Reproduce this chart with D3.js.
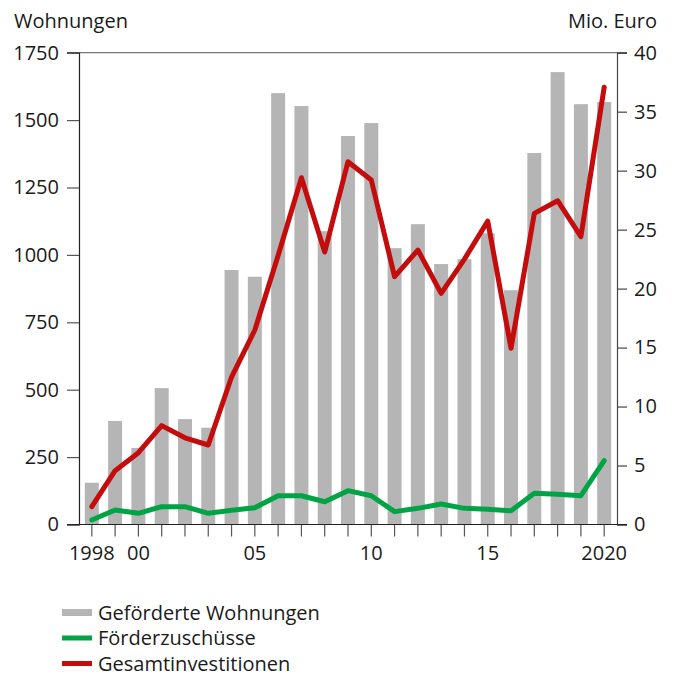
<!DOCTYPE html>
<html>
<head>
<meta charset="utf-8">
<script src="https://cdn.jsdelivr.net/npm/d3@7"></script>
<style>
  body { margin: 0; background: #fff; }
  svg text { font-family: "Open Sans", "Noto Sans", sans-serif; font-size: 20px; fill: #1a1a1a; }
</style>
</head>
<body>
<div id="chart"></div>
<script>
// years 1998..2020
var years = [1998, 1999, 2000, 2001, 2002, 2003, 2004, 2005, 2006, 2007, 2008, 2009,
             2010, 2011, 2012, 2013, 2014, 2015, 2016, 2017, 2018, 2019, 2020];
// Geförderte Wohnungen (left axis)
var wohnungen = [155, 384, 284, 506, 391, 359, 944, 919, 1600, 1552, 1088, 1441,
                 1489, 1025, 1114, 966, 984, 1080, 869, 1378, 1678, 1559, 1567];
// Förderzuschüsse, Mio. Euro (right axis)
var zuschuesse = [0.38, 1.23, 0.95, 1.51, 1.51, 0.95, 1.2, 1.42, 2.44, 2.44, 1.93, 2.87,
                  2.44, 1.09, 1.37, 1.74, 1.37, 1.29, 1.17, 2.64, 2.56, 2.44, 5.41];
// Gesamtinvestitionen, Mio. Euro (right axis)
var investitionen = [1.51, 4.56, 6.09, 8.38, 7.35, 6.74, 12.5, 16.49, 22.8, 29.4, 23.1, 30.76,
                     29.21, 21.01, 23.27, 19.6, 22.5, 25.72, 14.94, 26.38, 27.45, 24.4, 37.07];
var leftTicks = [0, 250, 500, 750, 1000, 1250, 1500, 1750];
var rightTicks = [0, 5, 10, 15, 20, 25, 30, 35, 40];
var xLabels = {1998: "1998", 2000: "00", 2005: "05", 2010: "10", 2015: "15", 2020: "2020"};
var legendItems = [
  {name: "Geförderte Wohnungen", type: "bar", color: "#b5b5b5"},
  {name: "Förderzuschüsse", type: "line", color: "#00a444"},
  {name: "Gesamtinvestitionen", type: "line", color: "#c40c0c"}
];

var W = 675, H = 675;
var pLeft = 79, pRight = 617, pTop = 52.7, pBottom = 524.5;

var svg = d3.select("#chart").append("svg")
    .attr("width", W).attr("height", H);

var x = d3.scaleBand()
    .domain(years)
    .range([pLeft, pRight])
    .paddingInner(0.4)
    .paddingOuter(0.25);
var yL = d3.scaleLinear().domain([0, 1750]).range([pBottom, pTop]);
var yR = d3.scaleLinear().domain([0, 40]).range([pBottom, pTop]);
var cx = function(d) { return x(d) + x.bandwidth() / 2; };

// bars
svg.append("g").selectAll("rect").data(years).enter()
    .append("rect")
    .attr("x", function(d) { return x(d); })
    .attr("width", x.bandwidth())
    .attr("y", function(d, i) { return yL(wohnungen[i]); })
    .attr("height", function(d, i) { return pBottom - yL(wohnungen[i]); })
    .attr("fill", legendItems[0].color);

// lines
var line = d3.line()
    .x(function(d, i) { return cx(years[i]); })
    .y(function(d) { return yR(d); });
svg.append("path").datum(zuschuesse)
    .attr("d", line).attr("fill", "none")
    .attr("stroke", legendItems[1].color).attr("stroke-width", 5)
    .attr("stroke-linejoin", "round").attr("stroke-linecap", "round");
svg.append("path").datum(investitionen)
    .attr("d", line).attr("fill", "none")
    .attr("stroke", legendItems[2].color).attr("stroke-width", 5)
    .attr("stroke-linejoin", "round").attr("stroke-linecap", "round");

// top line
svg.append("line")
    .attr("x1", 67).attr("x2", 627).attr("y1", pTop).attr("y2", pTop)
    .attr("stroke", "#777").attr("stroke-width", 1.3);

// left axis
var gL = svg.append("g").attr("transform", "translate(" + pLeft + ",0)")
    .call(d3.axisLeft(yL).tickValues(leftTicks).tickFormat(d3.format("d"))
      .tickSize(12).tickPadding(8));
gL.select(".domain").attr("stroke", "#222").attr("stroke-width", 1.2);
gL.selectAll(".tick line").attr("stroke", "#555").attr("stroke-width", 1.2);
gL.selectAll(".tick text").attr("font-size", null).attr("font-family", null).attr("fill", null);

// right axis
var gR = svg.append("g").attr("transform", "translate(" + pRight + ",0)")
    .call(d3.axisRight(yR).tickValues(rightTicks).tickFormat(d3.format("d"))
      .tickSize(10).tickPadding(7));
gR.select(".domain").attr("stroke", "#444").attr("stroke-width", 1.2);
gR.selectAll(".tick line").attr("stroke", "#444").attr("stroke-width", 1.2);
gR.selectAll(".tick text").attr("font-size", null).attr("font-family", null).attr("fill", null);

// bottom axis
var gB = svg.append("g").attr("transform", "translate(0," + pBottom + ")")
    .call(d3.axisBottom(x).tickSize(12).tickPadding(9)
      .tickFormat(function(d) { return xLabels[d] || ""; }));
gB.select(".domain").remove();
gB.selectAll(".tick line").attr("stroke", "#555").attr("stroke-width", 1.2);
gB.selectAll(".tick text").attr("font-size", null).attr("font-family", null).attr("fill", null);
svg.append("line")
    .attr("x1", 67).attr("x2", 627).attr("y1", pBottom).attr("y2", pBottom)
    .attr("stroke", "#222").attr("stroke-width", 1.2);

// axis titles
svg.append("text").attr("x", 14).attr("y", 28).text("Wohnungen");
svg.append("text").attr("x", 657).attr("y", 28).attr("text-anchor", "end").text("Mio. Euro");

// legend
var lg = svg.append("g").selectAll("g").data(legendItems).enter()
    .append("g")
    .attr("transform", function(d, i) { return "translate(62," + (612.5 + i * 25.5) + ")"; });
lg.append("rect")
    .attr("x", 0).attr("width", 30)
    .attr("y", function(d) { return d.type === "bar" ? -3.5 : -2.5; })
    .attr("height", function(d) { return d.type === "bar" ? 7 : 5; })
    .attr("fill", function(d) { return d.color; });
lg.append("text").attr("x", 36).attr("y", 7).text(function(d) { return d.name; });
</script>
</body>
</html>
